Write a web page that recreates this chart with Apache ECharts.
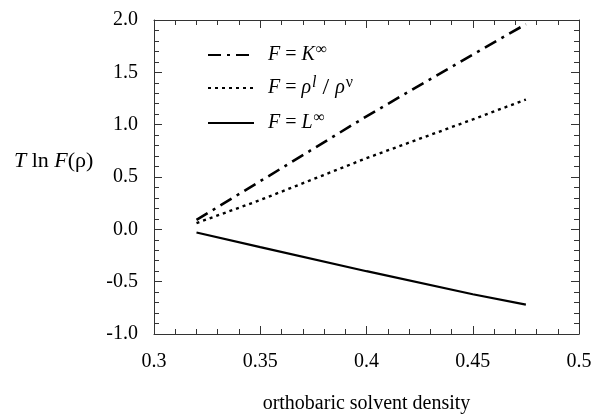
<!DOCTYPE html>
<html>
<head>
<meta charset="utf-8">
<script src="https://cdn.jsdelivr.net/npm/echarts@6/dist/echarts.min.js"></script>
<style>
  html, body { margin: 0; padding: 0; background: #fff; }
  #chart { width: 597px; height: 419px; }
</style>
</head>
<body>
<div id="chart"></div>
<script>
// Solvent density (x) and the three T ln F curves
const density = [0.32, 0.35, 0.40, 0.45, 0.475];
const kInf    = [0.09, 0.46, 1.08, 1.67, 1.96];
const rhoRatio = [0.06, 0.28, 0.68, 1.05, 1.24];
const lInf    = [-0.03, -0.17, -0.40, -0.62, -0.72];

const xTicks = { min: 0.3, max: 0.5, step: 0.05 };
const yTicks = { min: -1.0, max: 2.0, step: 0.5 };

const seriesNames = ['K', 'ratio', 'L'];
const legendLabels = {
  K: '{sp|}{i|F} = {i|K}{sup|∞}',
  ratio: '{sp|}{i|F} = {i|ρ}{supi|l}{n| / }{i|ρ}{sup|ν}',
  L: '{sp|}{i|F} = {i|L}{sup|∞}'
};

const FONT = '"Liberation Serif", "DejaVu Serif", serif';
const AXIS_COLOR = '#333';

const pairs = (ys) => density.map((x, i) => [x, ys[i]]);

const chart = echarts.init(document.getElementById('chart'), null, { renderer: 'canvas' });

const axisCommon = {
  axisLine: { show: true, onZero: false, lineStyle: { color: AXIS_COLOR, width: 1 } },
  axisTick: { show: true, inside: true, length: 8, lineStyle: { color: AXIS_COLOR, width: 1 } },
  minorTick: { show: true, splitNumber: 5, length: 5, lineStyle: { color: AXIS_COLOR, width: 1 } },
  splitLine: { show: false },
  minorSplitLine: { show: false }
};

chart.setOption({
  animation: false,
  backgroundColor: '#fff',
  textStyle: { fontFamily: FONT },
  title: {
    text: '{i|T} ln {i|F}(ρ)',
    left: 9,
    top: 145,
    textStyle: {
      fontFamily: FONT, fontSize: 22, fontWeight: 'normal', color: '#000',
      rich: { i: { fontFamily: FONT, fontSize: 22, fontStyle: 'italic', color: '#000' } }
    }
  },
  grid: { left: 154, right: 18, top: 20, bottom: 78, containLabel: false },
  legend: {
    orient: 'vertical',
    left: 202,
    top: 37,
    itemWidth: 46,
    itemHeight: 22,
    itemGap: 10,
    data: seriesNames,
    itemStyle: { color: 'rgba(0,0,0,0)', borderWidth: 0 },
    formatter: (name) => legendLabels[name],
    textStyle: {
      fontFamily: FONT, fontSize: 20, color: '#000',
      rich: {
        sp: { width: 9 },
        i: { fontFamily: FONT, fontSize: 20, fontStyle: 'italic', color: '#000' },
        n: { fontFamily: FONT, fontSize: 24, color: '#000' },
        sup: { fontFamily: FONT, fontSize: 16, color: '#000', verticalAlign: 'top', padding: [0, 0, 10, 1] },
        supi: { fontFamily: FONT, fontSize: 16, fontStyle: 'italic', color: '#000', verticalAlign: 'top', padding: [0, 0, 10, 1] }
      }
    }
  },
  xAxis: [
    Object.assign({}, axisCommon, {
      type: 'value', min: xTicks.min, max: xTicks.max, interval: xTicks.step,
      position: 'bottom',
      name: 'orthobaric solvent density',
      nameLocation: 'middle',
      nameGap: 60,
      nameTextStyle: { fontFamily: FONT, fontSize: 20, color: '#000' },
      axisLabel: { fontFamily: FONT, fontSize: 20, color: '#000', margin: 18 }
    }),
    Object.assign({}, axisCommon, {
      type: 'value', min: xTicks.min, max: xTicks.max, interval: xTicks.step,
      position: 'top',
      axisLabel: { show: false }
    })
  ],
  yAxis: [
    Object.assign({}, axisCommon, {
      type: 'value', min: yTicks.min, max: yTicks.max, interval: yTicks.step,
      position: 'left',
      axisLabel: {
        fontFamily: FONT, fontSize: 20, color: '#000', margin: 16,
        formatter: (v) => v.toFixed(1)
      }
    }),
    Object.assign({}, axisCommon, {
      type: 'value', min: yTicks.min, max: yTicks.max, interval: yTicks.step,
      position: 'right',
      axisLabel: { show: false }
    })
  ],
  series: [
    {
      name: 'K', type: 'line', data: pairs(kInf), showSymbol: false, symbol: 'none',
      itemStyle: { color: '#000' },
      lineStyle: { color: '#000', width: 2.6, type: [13, 6, 3, 6] }
    },
    {
      name: 'ratio', type: 'line', data: pairs(rhoRatio), showSymbol: false, symbol: 'none',
      itemStyle: { color: '#000' },
      lineStyle: { color: '#000', width: 2.4, type: [3, 4] }
    },
    {
      name: 'L', type: 'line', data: pairs(lInf), showSymbol: false, symbol: 'none',
      itemStyle: { color: '#000' },
      lineStyle: { color: '#000', width: 2.2, type: 'solid' }
    }
  ]
});
</script>
</body>
</html>
